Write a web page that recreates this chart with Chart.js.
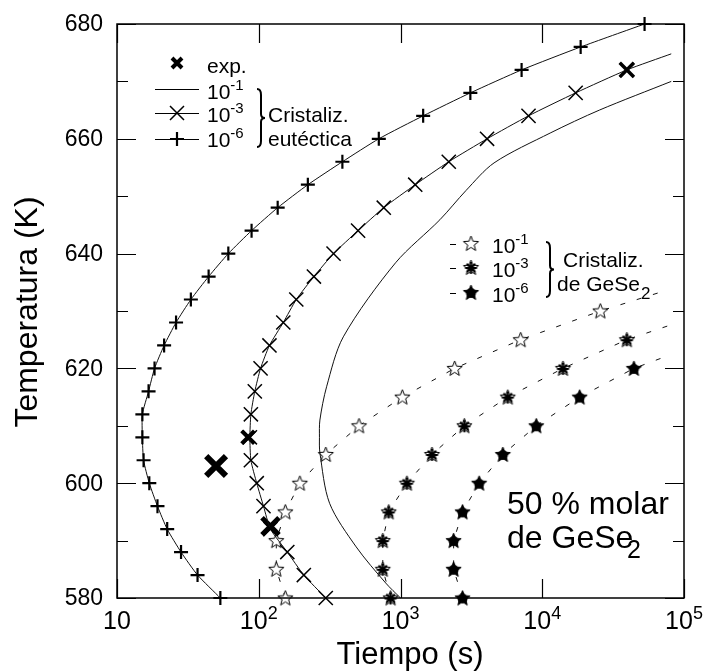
<!DOCTYPE html>
<html>
<head>
<meta charset="utf-8">
<script src="https://cdn.jsdelivr.net/npm/chart.js@4.4.1/dist/chart.umd.min.js"></script>
<style>
  html, body { margin: 0; padding: 0; background: #fff; }
  #wrap { width: 704px; height: 671px; }
</style>
</head>
<body>
<div id="wrap"><canvas id="c" width="704" height="671"></canvas></div>
<script>
// ---- data (tiempo en s, temperatura en K) ----
const xTicks = [10, 100, 1000, 10000, 100000];
const xTickExp = ['', '2', '3', '4', '5'];
const yTicks = [580, 600, 620, 640, 660, 680];

const expTime = [50, 84, 121, 39500];
const expTemp = [603, 608, 592.5, 672];

const eut1Time = [1000, 787, 487, 316, 270, 268, 270, 301, 395, 923, 1897, 2900, 4570, 11370, 25300, 81300];
const eut1Temp = [580, 582.6, 588.9, 596.5, 605.3, 608, 611, 616.8, 625.5, 638.4, 645.9, 651, 655.8, 661, 665, 670];

const eut3Time = [297, 208, 159, 121, 108, 96.8, 88, 86.6, 88, 93.8, 103, 119, 149, 184, 245, 337, 502, 762, 1270, 2190, 4080, 8000, 17200, 39500, 81300];
const eut3Temp = [580, 584, 588, 592, 596, 600, 604, 608, 612, 616, 620, 624, 628, 632, 636, 640, 644, 648, 652, 656, 660, 664, 668, 672, 674.8];

const eut6Time = [53.6, 37, 28.3, 22.6, 19.3, 16.9, 15.4, 15.1, 15.1, 16.7, 18.4, 21.5, 26.1, 33.2, 44.3, 61, 89, 136, 222, 389, 703, 1445, 3110, 7150, 18660, 52700];
const eut6Temp = [580, 584, 588, 592, 596, 600, 604, 608, 612, 616, 620, 624, 628, 632, 636, 640, 644, 648, 652, 656, 660, 664, 668, 672, 676, 680];

const ge1Time = [154, 133, 133, 154, 195, 297, 510, 1030, 2410, 7040, 25700, 77400];
const ge1Temp = [580, 585, 590, 595, 600, 605, 610, 615, 620, 625, 630, 633.7];

const ge3Time = [851, 750, 750, 826, 1110, 1667, 2820, 5710, 14000, 39500, 81300];
const ge3Temp = [580, 585, 590, 595, 600, 605, 610, 615, 620, 625, 627.6];

const ge6Time = [2740, 2370, 2370, 2740, 3590, 5270, 9080, 18370, 44300, 78700];
const ge6Temp = [580, 585, 590, 595, 600, 605, 610, 615, 620, 622.3];

const FONT = '"Liberation Sans", Arial, Helvetica, sans-serif';

function pts(xs, ys) { return xs.map((x, i) => ({ x: x, y: ys[i] })); }
// marker on every point except the last one (end of the curve)
function radiiUntilEnd(n, r) { return Array.from({ length: n }, (_, i) => i < n - 1 ? r : 0); }

// star markers drawn on small canvases, used as point styles
function makeStar(kind) {
  const cv = document.createElement('canvas');
  cv.width = 19; cv.height = 19;
  const g = cv.getContext('2d');
  const cx = 9.5, cy = 10, ro = 8, ri = 3.4;
  g.beginPath();
  for (let i = 0; i < 10; i++) {
    const r = i % 2 ? ri : ro;
    const a = -Math.PI / 2 + i * Math.PI / 5;
    const px = cx + r * Math.cos(a), py = cy + r * Math.sin(a);
    i ? g.lineTo(px, py) : g.moveTo(px, py);
  }
  g.closePath();
  g.lineWidth = 1;
  g.strokeStyle = '#000';
  g.fillStyle = kind === 'full' ? '#000' : '#fff';
  g.fill(); g.stroke();
  if (kind === 'ast') {
    g.lineWidth = 2;
    for (let k = 0; k < 4; k++) {
      const a = k * Math.PI / 4;
      g.beginPath();
      g.moveTo(cx - 6 * Math.cos(a), cy - 6 * Math.sin(a));
      g.lineTo(cx + 6 * Math.cos(a), cy + 6 * Math.sin(a));
      g.stroke();
    }
    g.beginPath(); g.arc(cx, cy, 3, 0, Math.PI * 2); g.fillStyle = '#000'; g.fill();
  }
  if (kind === 'full') {
    g.beginPath(); g.arc(cx, cy, 5, 0, Math.PI * 2); g.fillStyle = '#000'; g.fill();
  }
  return cv;
}
const starOpen = makeStar('open');
const starAst = makeStar('ast');
const starFull = makeStar('full');

function drawSup(ctx, base, sup, x, y, fs, sfs, rise, align) {
  ctx.font = fs + 'px ' + FONT;
  const wb = ctx.measureText(base).width;
  ctx.font = sfs + 'px ' + FONT;
  const ws = ctx.measureText(sup).width;
  let x0 = x;
  if (align === 'center') x0 = x - (wb + ws) / 2;
  ctx.textAlign = 'left';
  ctx.textBaseline = 'alphabetic';
  ctx.font = fs + 'px ' + FONT;
  ctx.fillText(base, x0, y);
  ctx.font = sfs + 'px ' + FONT;
  ctx.fillText(sup, x0 + wb, y - rise);
  return x0 + wb + ws;
}

function brace(ctx, x, y1, y2) {
  const ym = (y1 + y2) / 2;
  ctx.beginPath();
  ctx.moveTo(x - 4, y1);
  ctx.quadraticCurveTo(x, y1, x, y1 + 6);
  ctx.lineTo(x, ym - 4);
  ctx.quadraticCurveTo(x, ym, x + 4, ym);
  ctx.quadraticCurveTo(x, ym, x, ym + 4);
  ctx.lineTo(x, y2 - 6);
  ctx.quadraticCurveTo(x, y2, x - 4, y2);
  ctx.stroke();
}

const decor = {
  id: 'decor',
  afterDraw(chart) {
    const ctx = chart.ctx;
    const a = chart.chartArea;
    const sx = chart.scales.x, sy = chart.scales.y;
    ctx.save();
    ctx.strokeStyle = '#000';
    ctx.fillStyle = '#000';
    // frame
    ctx.lineWidth = 1.5;
    ctx.strokeRect(a.left, a.top, a.right - a.left, a.bottom - a.top);
    // ticks
    ctx.lineWidth = 1.2;
    for (let v = 580; v <= 680; v += 10) {
      const y = Math.round(sy.getPixelForValue(v)) + 0.5;
      const len = v % 20 === 0 ? 19 : 11;
      ctx.beginPath();
      ctx.moveTo(a.left, y); ctx.lineTo(a.left + len, y);
      ctx.moveTo(a.right, y); ctx.lineTo(a.right - len, y);
      ctx.stroke();
    }
    xTicks.forEach(v => {
      const x = Math.round(sx.getPixelForValue(v)) + 0.5;
      ctx.beginPath();
      ctx.moveTo(x, a.bottom); ctx.lineTo(x, a.bottom - 19);
      ctx.moveTo(x, a.top); ctx.lineTo(x, a.top + 19);
      ctx.stroke();
    });
    // y tick labels
    ctx.font = '23px ' + FONT;
    ctx.textAlign = 'right';
    ctx.textBaseline = 'middle';
    yTicks.forEach(v => ctx.fillText(String(v), 103, sy.getPixelForValue(v) + 1));
    // x tick labels
    xTicks.forEach((v, i) => {
      let x = sx.getPixelForValue(v);
      if (i === xTicks.length - 1) x = Math.min(x, 684);
      drawSup(ctx, '10', xTickExp[i], x, 629, 25, 18, 10, 'center');
    });
    // axis titles
    ctx.font = '31px ' + FONT;
    ctx.textAlign = 'center';
    ctx.textBaseline = 'alphabetic';
    ctx.fillText('Tiempo (s)', 410, 664);
    ctx.save();
    ctx.translate(37, 312);
    ctx.rotate(-Math.PI / 2);
    ctx.font = '32px ' + FONT;
    ctx.fillText('Temperatura (K)', 0, 0);
    ctx.restore();

    // legend 1: eutectic crystallisation
    ctx.lineWidth = 4;
    ctx.beginPath();
    ctx.moveTo(172, 58); ctx.lineTo(182, 68);
    ctx.moveTo(182, 58); ctx.lineTo(172, 68);
    ctx.stroke();
    ctx.font = '21px ' + FONT;
    ctx.textAlign = 'left';
    ctx.fillText('exp.', 207, 73);
    ctx.lineWidth = 1;
    [89, 113, 139].forEach(y => {
      ctx.beginPath(); ctx.moveTo(155, y + 0.5); ctx.lineTo(199, y + 0.5); ctx.stroke();
    });
    ctx.lineWidth = 1.5;
    ctx.beginPath();
    ctx.moveTo(170, 106); ctx.lineTo(184, 120);
    ctx.moveTo(184, 106); ctx.lineTo(170, 120);
    ctx.stroke();
    ctx.lineWidth = 2.2;
    ctx.beginPath();
    ctx.moveTo(170, 139); ctx.lineTo(184, 139);
    ctx.moveTo(177, 132); ctx.lineTo(177, 146);
    ctx.stroke();
    drawSup(ctx, '10', '-1', 207, 99, 21, 15, 9, 'left');
    drawSup(ctx, '10', '-3', 207, 122, 21, 15, 9, 'left');
    drawSup(ctx, '10', '-6', 207, 147, 21, 15, 9, 'left');
    ctx.lineWidth = 2;
    brace(ctx, 261, 89, 147);
    ctx.font = '21px ' + FONT;
    ctx.fillText('Cristaliz.', 268, 122);
    ctx.fillText('eutéctica', 268, 146);

    // legend 2: GeSe2 crystallisation
    const rows = [[244, starOpen, '-1'], [268, starAst, '-3'], [293, starFull, '-6']];
    rows.forEach(r => {
      ctx.lineWidth = 1;
      ctx.beginPath(); ctx.moveTo(450, r[0] + 0.5); ctx.lineTo(456, r[0] + 0.5); ctx.stroke();
      ctx.drawImage(r[1], 471 - 9.5, r[0] - 10);
      drawSup(ctx, '10', r[2], 492, r[0] + 9, 21, 15, 9, 'left');
    });
    ctx.lineWidth = 2;
    brace(ctx, 550, 242, 297);
    ctx.font = '21px ' + FONT;
    ctx.fillText('Cristaliz.', 563, 267);
    ctx.fillText('de GeSe', 557, 291);
    ctx.font = '17px ' + FONT;
    ctx.fillText('2', 641, 299);

    // annotation
    ctx.font = '32px ' + FONT;
    ctx.fillText('50 % molar', 507, 514);
    ctx.fillText('de GeSe', 507, 548);
    ctx.font = '25px ' + FONT;
    ctx.fillText('2', 627, 558);
    ctx.restore();
  }
};

const common = { showLine: true, borderColor: '#111', borderWidth: 1, clip: false, pointBorderColor: '#000', pointBackgroundColor: '#000' };

new Chart(document.getElementById('c'), {
  type: 'scatter',
  data: {
    datasets: [
      Object.assign({}, common, { label: '10-1 eut', data: pts(eut1Time, eut1Temp), pointRadius: 0, tension: 0.3 }),
      Object.assign({}, common, { label: '10-3 eut', data: pts(eut3Time, eut3Temp), pointStyle: 'crossRot', pointRadius: radiiUntilEnd(eut3Time.length, 10), pointBorderWidth: 1.5, tension: 0.2 }),
      Object.assign({}, common, { label: '10-6 eut', data: pts(eut6Time, eut6Temp), pointStyle: 'cross', pointRadius: 7, pointBorderWidth: 2.2, tension: 0.2 }),
      Object.assign({}, common, { label: '10-1 GeSe2', data: pts(ge1Time, ge1Temp), borderDash: [5, 12], pointStyle: starOpen, pointRadius: radiiUntilEnd(ge1Time.length, 8) }),
      Object.assign({}, common, { label: '10-3 GeSe2', data: pts(ge3Time, ge3Temp), borderDash: [5, 12], pointStyle: starAst, pointRadius: radiiUntilEnd(ge3Time.length, 8) }),
      Object.assign({}, common, { label: '10-6 GeSe2', data: pts(ge6Time, ge6Temp), borderDash: [5, 12], pointStyle: starFull, pointRadius: radiiUntilEnd(ge6Time.length, 8) }),
      Object.assign({}, common, { label: 'exp.', data: pts(expTime, expTemp), showLine: false, pointStyle: 'crossRot', pointRadius: [14, 9, 12, 10], pointBorderWidth: [6, 4, 5, 3.5] })
    ]
  },
  options: {
    responsive: false,
    animation: false,
    events: [],
    layout: { padding: { left: 117, right: 9, top: 24, bottom: 73 } },
    plugins: { legend: { display: false }, tooltip: { enabled: false } },
    scales: {
      x: {
        type: 'logarithmic', min: 10, max: 100000,
        ticks: { display: false },
        grid: { display: false, drawTicks: false },
        border: { display: false }
      },
      y: {
        type: 'linear', min: 580, max: 680,
        ticks: { display: false },
        grid: { display: false, drawTicks: false },
        border: { display: false }
      }
    }
  },
  plugins: [decor]
});
</script>
</body>
</html>
